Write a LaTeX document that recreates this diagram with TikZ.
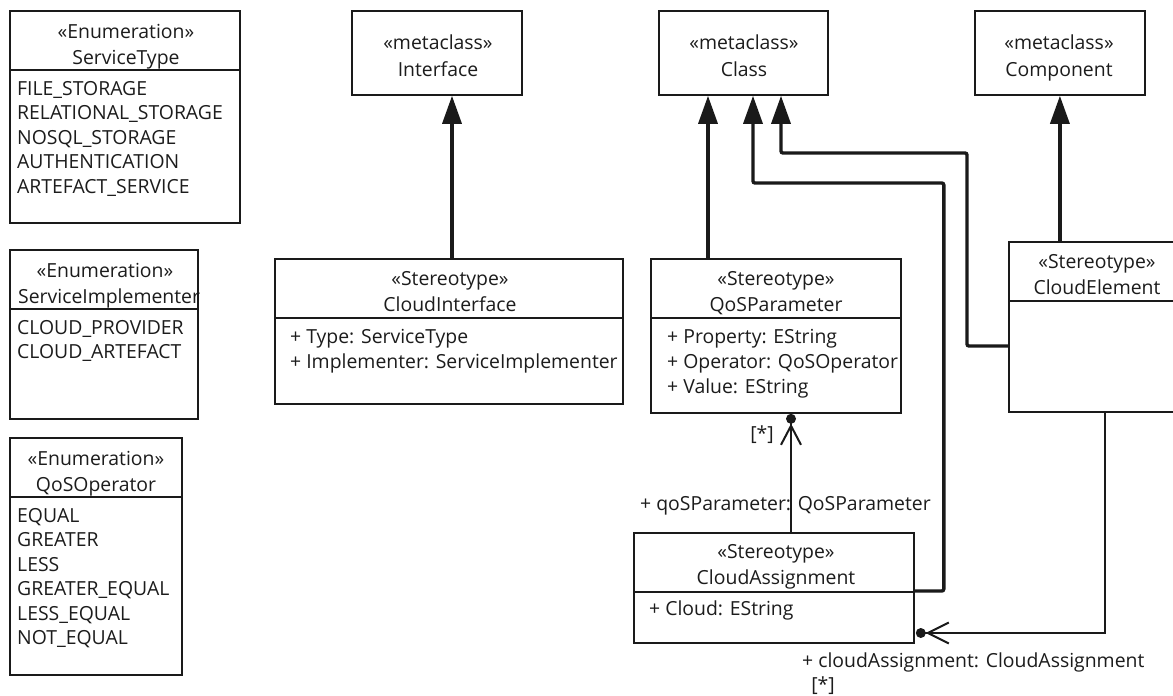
\documentclass[tikz,border=0pt]{standalone}
\usepackage{fontspec}
\setmainfont{Open Sans}
\usetikzlibrary{arrows.meta,calc}
\definecolor{linec}{HTML}{1A1A1A}
\definecolor{textc}{HTML}{1C1C1C}
\tikzset{
  umlbox/.style={draw=linec, line width=1.8pt, rectangle, anchor=north west, inner sep=0pt},
  txt/.style={font=\fontsize{19.4}{23}\selectfont, text=textc, inner sep=0pt},
  ctxt/.style={txt, anchor=base},
  ltxt/.style={txt, anchor=base west},
  divider/.style={draw=linec, line width=1.8pt},
  gen/.style={draw=linec, line width=3.4pt, rounded corners=2pt,
              -{Triangle[length=28pt,width=19pt]}},
  assoc/.style={draw=linec, line width=1.6pt},
  barb/.style={draw=linec, line width=2pt, line join=miter},
}
\begin{document}
\begin{tikzpicture}[x=1pt,y=-1pt]
\fill[white] (0,0) rectangle (1173,696);
\useasboundingbox (0,0) rectangle (1173,696);

% ---------- enumerations ----------
\node[umlbox, minimum width=230pt, minimum height=212pt] (st) at (9,10) {};
\draw[divider] ([yshift=-60pt]st.north west) -- ([yshift=-60pt]st.north east);
\node[ctxt] (st1) at (126,38) {«Enumeration»};
\node[ctxt] (st2) at (126,64) {ServiceType};
\node[ltxt] (st3) at (17,95) {FILE\_STORAGE};
\node[ltxt] (st4) at (17,119.5) {RELATIONAL\_STORAGE};
\node[ltxt] (st5) at (17,144) {NOSQL\_STORAGE};
\node[ltxt] (st6) at (17,168.5) {AUTHENTICATION};
\node[ltxt] (st7) at (17,193) {ARTEFACT\_SERVICE};

\node[umlbox, minimum width=188pt, minimum height=169pt] (si) at (9,249) {};
\draw[divider] ([yshift=-60pt]si.north west) -- ([yshift=-60pt]si.north east);
\node[ctxt] (si1) at (105,277) {«Enumeration»};
\node[ltxt] (si2) at (18,303) {ServiceImplementer};
\node[ltxt] (si3) at (17,334) {CLOUD\_PROVIDER};
\node[ltxt] (si4) at (17,358.5) {CLOUD\_ARTEFACT};

\node[umlbox, minimum width=172pt, minimum height=237pt] (qo) at (9,437) {};
\draw[divider] ([yshift=-60pt]qo.north west) -- ([yshift=-60pt]qo.north east);
\node[ctxt] (qo1) at (96,465) {«Enumeration»};
\node[ctxt] (qo2) at (96,491) {QoSOperator};
\node[ltxt] (qo3) at (17,522) {EQUAL};
\node[ltxt] (qo4) at (17,546.5) {GREATER};
\node[ltxt] (qo5) at (17,571) {LESS};
\node[ltxt] (qo6) at (17,595.5) {GREATER\_EQUAL};
\node[ltxt] (qo7) at (17,620) {LESS\_EQUAL};
\node[ltxt] (qo8) at (17,644.5) {NOT\_EQUAL};

% ---------- metaclasses ----------
\node[umlbox, minimum width=170pt, minimum height=84pt] (itf) at (351,10) {};
\node[ctxt] (itf1) at (438,49) {«metaclass»};
\node[ctxt] (itf2) at (438,76) {Interface};

\node[umlbox, minimum width=169pt, minimum height=84pt] (cls) at (658,10) {};
\node[ctxt] (cls1) at (744,49) {«metaclass»};
\node[ctxt] (cls2) at (744,76) {Class};

\node[umlbox, minimum width=170pt, minimum height=84pt] (cmp) at (974,10) {};
\node[ctxt] (cmp1) at (1059,49) {«metaclass»};
\node[ctxt] (cmp2) at (1059,76) {Component};

% ---------- stereotypes ----------
\node[umlbox, minimum width=348pt, minimum height=145pt] (ci) at (274,258) {};
\draw[divider] ([yshift=-60pt]ci.north west) -- ([yshift=-60pt]ci.north east);
\node[ctxt] (ci1) at (450,285) {«Stereotype»};
\node[ctxt] (ci2) at (450,311) {CloudInterface};
\node[ltxt] (ci3) at (290,343) {+ Type: ServiceType};
\node[ltxt] (ci4) at (290,368) {+ Implementer: ServiceImplementer};

\node[umlbox, minimum width=250pt, minimum height=154pt] (qp) at (650,258) {};
\draw[divider] ([yshift=-60pt]qp.north west) -- ([yshift=-60pt]qp.north east);
\node[ctxt] (qp1) at (776,285) {«Stereotype»};
\node[ctxt] (qp2) at (776,311) {QoSParameter};
\node[ltxt] (qp3) at (667,343) {+ Property: EString};
\node[ltxt] (qp4) at (667,368) {+ Operator: QoSOperator};
\node[ltxt] (qp5) at (667,393) {+ Value: EString};

\node[umlbox, minimum width=178pt, minimum height=170pt] (ce) at (1008,241) {};
\draw[divider] ([yshift=-60pt]ce.north west) -- ([yshift=-60pt]ce.north east);
\node[ctxt] (ce1) at (1097,268) {«Stereotype»};
\node[ctxt] (ce2) at (1097,294) {CloudElement};

\node[umlbox, minimum width=280pt, minimum height=110pt] (ca) at (633,532) {};
\draw[divider] ([yshift=-60pt]ca.north west) -- ([yshift=-60pt]ca.north east);
\node[ctxt] (ca1) at (776,558) {«Stereotype»};
\node[ctxt] (ca2) at (776,584) {CloudAssignment};
\node[ltxt] (ca3) at (649,615) {+ Cloud: EString};

% ---------- extensions (to metaclasses) ----------
\coordinate (e1) at ([xshift=178pt]ci.north west);
\draw[gen] (e1) -- (e1 |- itf.south);

\coordinate (e2) at ([xshift=58pt]qp.north west);
\draw[gen] (e2) -- (e2 |- cls.south);

\coordinate (k3) at ([xshift=95pt]cls.south west);
\draw[gen] ([yshift=-59pt]ca.north east) -- ++(29,0) -- ++(0,-408) -| (k3);

\coordinate (k4) at ([xshift=123pt]cls.south west);
\draw[gen] ([yshift=-105pt]ce.north west) -- ++(-41,0) -- ++(0,-193) -| (k4);

\draw[gen] (ce.north -| cmp.south) -- (cmp.south);

% ---------- associations ----------
\coordinate (a1) at ([xshift=158pt]ca.north west);
\coordinate (qpend) at (a1 |- qp.south);
\draw[assoc] (a1) -- ([yshift=-5pt]qpend);
\fill[linec] ([yshift=-5pt]qpend) circle (5pt);
\draw[barb] ([xshift=-10pt,yshift=-31pt]qpend) -- ([yshift=-12pt]qpend) -- ([xshift=10pt,yshift=-31pt]qpend);

\coordinate (a2) at ([xshift=97pt]ce.south west);
\coordinate (caend) at ([yshift=-101pt]ca.north east);
\draw[assoc] (a2) |- ([xshift=6pt]caend);
\fill[linec] ([xshift=6pt]caend) circle (5pt);
\draw[barb] ([xshift=34pt,yshift=10.5pt]caend) -- ([xshift=13pt]caend) -- ([xshift=34pt,yshift=-10.5pt]caend);

% ---------- association end labels ----------
\node[ctxt] (m1) at (762,440) {[*]};
\node[ltxt] (r1) at (640,510) {+ qoSParameter: QoSParameter};
\node[ltxt] (r2) at (802,667) {+ cloudAssignment: CloudAssignment};
\node[ctxt] (m2) at (823,691) {[*]};
\end{tikzpicture}
\end{document}
